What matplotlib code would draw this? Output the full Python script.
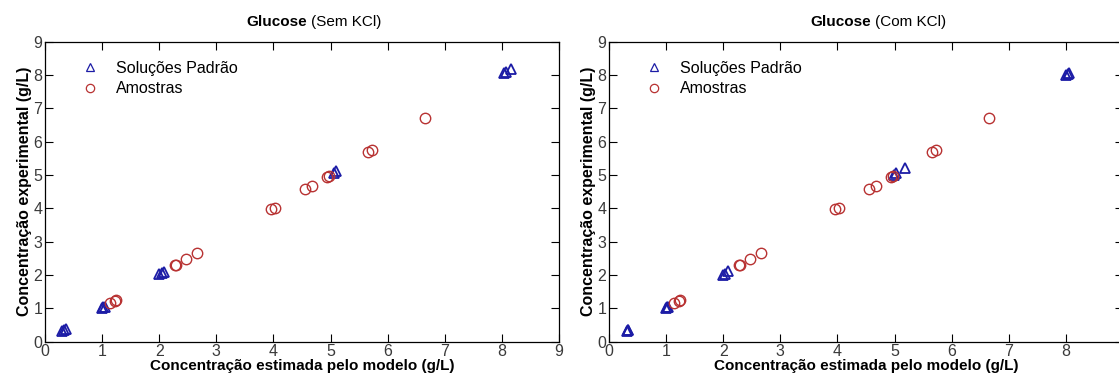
import matplotlib
matplotlib.use("Agg")
import matplotlib.pyplot as plt

plt.rcParams['font.family'] = ['Liberation Sans', 'DejaVu Sans']

# Amostras (same in both panels)
amostras_x = [1.13, 1.22, 1.25, 2.27, 2.30, 2.47, 2.66, 3.96, 4.02, 4.56, 4.67, 4.93, 4.97, 5.66, 5.73, 6.66]
amostras_y = [1.15, 1.23, 1.25, 2.29, 2.31, 2.48, 2.66, 3.98, 4.01, 4.59, 4.67, 4.94, 4.98, 5.69, 5.75, 6.71]

# Soluções padrão - sem KCl
sem_x = [0.30, 0.33, 0.36, 0.99, 1.02, 1.05, 2.00, 2.04, 2.08, 5.06, 5.10, 8.03, 8.08, 8.16]
sem_y = [0.31, 0.34, 0.37, 1.00, 1.03, 1.05, 2.02, 2.06, 2.09, 5.07, 5.11, 8.05, 8.09, 8.17]

# Soluções padrão - com KCl
com_x = [0.31, 0.33, 0.34, 1.00, 1.02, 1.03, 2.00, 2.03, 2.08, 4.99, 5.03, 5.19, 8.00, 8.03, 8.05]
com_y = [0.32, 0.34, 0.35, 1.01, 1.03, 1.04, 2.01, 2.04, 2.11, 5.01, 5.06, 5.22, 8.01, 8.03, 8.05]

ticks = list(range(10))
blue = '#1c1ca6'
red = '#b83232'

fig = plt.figure(figsize=(11.19, 3.81), dpi=100)
ax1 = fig.add_axes([45/1119, 1 - 341.7/381, 514/1119, 300/381])
ax2 = fig.add_axes([609/1119, 1 - 341.7/381, 514/1119, 300/381])

for ax, px, py, cond in [(ax1, sem_x, sem_y, '(Sem KCl)'), (ax2, com_x, com_y, '(Com KCl)')]:
    ax.plot(px, py, linestyle='none', marker='^', ms=7.5, mfc='none', mec=blue, mew=1.3,
            label='Soluções Padrão')
    ax.plot(amostras_x, amostras_y, linestyle='none', marker='o', ms=7.5, mfc='none', mec=red, mew=1.0,
            label='Amostras')
    ax.set_xlim(0, 9)
    ax.set_ylim(0, 9)
    ax.set_xticks(ticks)
    ax.set_yticks(ticks)
    ax.tick_params(direction='in', length=6, top=True, right=True, labelsize=11.5,
                   labelcolor='#3a3a3a', pad=2, width=0.8)
    for s in ax.spines.values():
        s.set_linewidth(0.9)
    ax.set_xlabel('Concentração estimada pelo modelo (g/L)', fontsize=11, fontweight='bold', labelpad=0)
    ax.set_ylabel('Concentração experimental (g/L)', fontsize=11.5, fontweight='bold', labelpad=1)
    ax.text(0.510, 1.066, 'Glucose', transform=ax.transAxes, ha='right', va='center',
            fontsize=11, fontweight='bold')
    ax.text(0.517, 1.066, cond, transform=ax.transAxes, ha='left', va='center', fontsize=11)
    leg = ax.legend(loc='upper left', frameon=False, fontsize=11.5, handlelength=1.0,
                    handletextpad=1.1, bbox_to_anchor=(0.045, 0.985), labelspacing=0.35,
                    markerscale=0.8)
    for h in leg.legend_handles:
        h.set_markeredgewidth(0.9)

# the last x tick label of the right panel falls outside the image in the reference
ax2.set_xticklabels([str(t) for t in ticks[:-1]] + [''])

fig.savefig('out.png', dpi=100)
